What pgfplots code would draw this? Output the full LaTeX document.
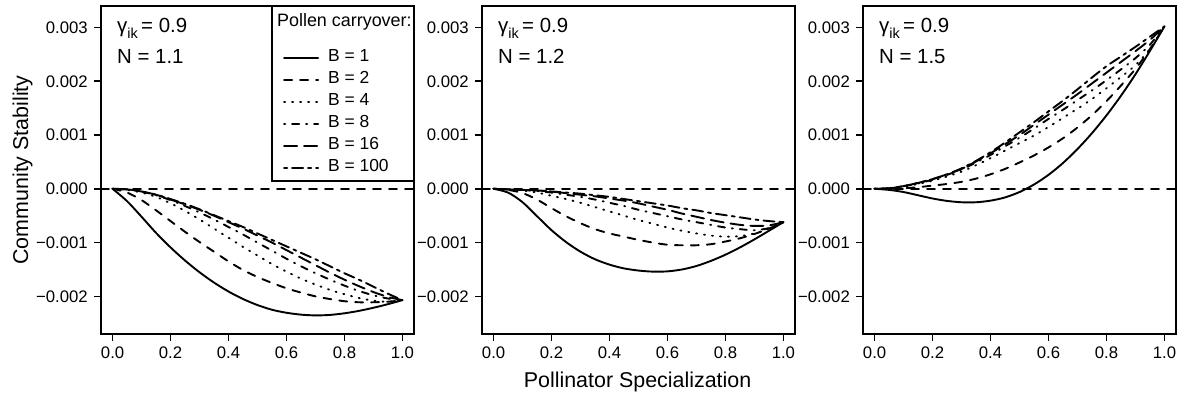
\documentclass[border=0pt]{standalone}
\usepackage{pgfplots}
\pgfplotsset{compat=1.18}
\usepackage{pgfplotstable}
\usepackage{fontspec}
\setmainfont{Liberation Sans}

\pgfplotstableread[row sep=\\]{
x b1 b2 b4 b8 b16 b100\\
0 0 0 0 0 0 0\\
0.05 -0.23e-3 -0.07e-3 -0.02e-3 -0.01e-3 -0.01e-3 -0.01e-3\\
0.10 -0.52e-3 -0.21e-3 -0.07e-3 -0.05e-3 -0.05e-3 -0.05e-3\\
0.15 -0.82e-3 -0.40e-3 -0.15e-3 -0.12e-3 -0.11e-3 -0.11e-3\\
0.20 -1.09e-3 -0.60e-3 -0.27e-3 -0.21e-3 -0.20e-3 -0.19e-3\\
0.25 -1.334e-3 -0.80e-3 -0.41e-3 -0.32e-3 -0.29e-3 -0.28e-3\\
0.30 -1.552e-3 -0.99e-3 -0.57e-3 -0.44e-3 -0.39e-3 -0.38e-3\\
0.35 -1.744e-3 -1.17e-3 -0.74e-3 -0.57e-3 -0.50e-3 -0.49e-3\\
0.40 -1.910e-3 -1.35e-3 -0.91e-3 -0.71e-3 -0.62e-3 -0.60e-3\\
0.45 -2.049e-3 -1.51e-3 -1.08e-3 -0.85e-3 -0.74e-3 -0.71e-3\\
0.50 -2.162e-3 -1.64e-3 -1.24e-3 -1.00e-3 -0.87e-3 -0.83e-3\\
0.55 -2.249e-3 -1.75e-3 -1.40e-3 -1.15e-3 -1.00e-3 -0.95e-3\\
0.60 -2.305e-3 -1.85e-3 -1.54e-3 -1.30e-3 -1.14e-3 -1.07e-3\\
0.65 -2.340e-3 -1.93e-3 -1.67e-3 -1.44e-3 -1.28e-3 -1.19e-3\\
0.70 -2.354e-3 -2.00e-3 -1.78e-3 -1.57e-3 -1.42e-3 -1.31e-3\\
0.75 -2.345e-3 -2.05e-3 -1.88e-3 -1.69e-3 -1.56e-3 -1.44e-3\\
0.80 -2.315e-3 -2.09e-3 -1.96e-3 -1.80e-3 -1.69e-3 -1.57e-3\\
0.85 -2.270e-3 -2.11e-3 -2.03e-3 -1.90e-3 -1.81e-3 -1.69e-3\\
0.90 -2.212e-3 -2.11e-3 -2.08e-3 -1.98e-3 -1.92e-3 -1.82e-3\\
0.95 -2.145e-3 -2.10e-3 -2.10e-3 -2.04e-3 -2.01e-3 -1.95e-3\\
1.00 -2.07e-3 -2.07e-3 -2.07e-3 -2.07e-3 -2.07e-3 -2.07e-3\\
}\tabA

\pgfplotstableread[row sep=\\]{
x b1 b2 b4 b8 b16 b100\\
0 0 0 0 0 0 0\\
0.05 -0.07e-3 -0.02e-3 -0.01e-3 -0.01e-3 -0.01e-3 -0.01e-3\\
0.10 -0.25e-3 -0.08e-3 -0.03e-3 -0.02e-3 -0.02e-3 -0.02e-3\\
0.15 -0.51e-3 -0.20e-3 -0.07e-3 -0.04e-3 -0.03e-3 -0.03e-3\\
0.20 -0.77e-3 -0.36e-3 -0.13e-3 -0.07e-3 -0.05e-3 -0.05e-3\\
0.25 -0.99e-3 -0.51e-3 -0.19e-3 -0.11e-3 -0.08e-3 -0.07e-3\\
0.30 -1.17e-3 -0.64e-3 -0.26e-3 -0.15e-3 -0.11e-3 -0.09e-3\\
0.35 -1.31e-3 -0.75e-3 -0.34e-3 -0.20e-3 -0.14e-3 -0.12e-3\\
0.40 -1.41e-3 -0.83e-3 -0.42e-3 -0.26e-3 -0.18e-3 -0.15e-3\\
0.45 -1.48e-3 -0.89e-3 -0.50e-3 -0.32e-3 -0.22e-3 -0.19e-3\\
0.50 -1.52e-3 -0.95e-3 -0.58e-3 -0.39e-3 -0.27e-3 -0.23e-3\\
0.55 -1.54e-3 -1.00e-3 -0.65e-3 -0.45e-3 -0.33e-3 -0.27e-3\\
0.60 -1.535e-3 -1.04e-3 -0.72e-3 -0.51e-3 -0.39e-3 -0.31e-3\\
0.65 -1.50e-3 -1.05e-3 -0.78e-3 -0.57e-3 -0.46e-3 -0.36e-3\\
0.70 -1.435e-3 -1.05e-3 -0.83e-3 -0.62e-3 -0.52e-3 -0.40e-3\\
0.75 -1.34e-3 -1.03e-3 -0.87e-3 -0.67e-3 -0.58e-3 -0.45e-3\\
0.80 -1.225e-3 -0.98e-3 -0.89e-3 -0.72e-3 -0.63e-3 -0.49e-3\\
0.85 -1.09e-3 -0.92e-3 -0.88e-3 -0.75e-3 -0.67e-3 -0.53e-3\\
0.90 -0.94e-3 -0.84e-3 -0.83e-3 -0.77e-3 -0.69e-3 -0.57e-3\\
0.95 -0.78e-3 -0.74e-3 -0.74e-3 -0.73e-3 -0.68e-3 -0.60e-3\\
1.00 -0.62e-3 -0.62e-3 -0.62e-3 -0.62e-3 -0.62e-3 -0.62e-3\\
}\tabB

\pgfplotstableread[row sep=\\]{
x b1 b2 b4 b8 b16 b100\\
0 0 0 0 0 0 0\\
0.05 -0.02e-3 0.00e-3 0.01e-3 0.01e-3 0.01e-3 0.01e-3\\
0.10 -0.06e-3 0.01e-3 0.04e-3 0.05e-3 0.05e-3 0.05e-3\\
0.15 -0.12e-3 0.03e-3 0.09e-3 0.10e-3 0.11e-3 0.11e-3\\
0.20 -0.18e-3 0.06e-3 0.15e-3 0.17e-3 0.18e-3 0.18e-3\\
0.25 -0.225e-3 0.09e-3 0.23e-3 0.26e-3 0.27e-3 0.27e-3\\
0.30 -0.25e-3 0.13e-3 0.32e-3 0.36e-3 0.37e-3 0.38e-3\\
0.35 -0.25e-3 0.19e-3 0.44e-3 0.49e-3 0.51e-3 0.52e-3\\
0.40 -0.22e-3 0.27e-3 0.57e-3 0.63e-3 0.66e-3 0.68e-3\\
0.45 -0.16e-3 0.37e-3 0.71e-3 0.79e-3 0.83e-3 0.86e-3\\
0.50 -0.06e-3 0.49e-3 0.85e-3 0.95e-3 1.00e-3 1.05e-3\\
0.55 0.08e-3 0.62e-3 0.99e-3 1.12e-3 1.19e-3 1.24e-3\\
0.60 0.26e-3 0.77e-3 1.15e-3 1.30e-3 1.38e-3 1.44e-3\\
0.65 0.48e-3 0.94e-3 1.32e-3 1.47e-3 1.57e-3 1.64e-3\\
0.70 0.74e-3 1.14e-3 1.49e-3 1.65e-3 1.76e-3 1.85e-3\\
0.75 1.035e-3 1.37e-3 1.67e-3 1.83e-3 1.96e-3 2.07e-3\\
0.80 1.365e-3 1.63e-3 1.87e-3 2.02e-3 2.16e-3 2.28e-3\\
0.85 1.73e-3 1.92e-3 2.08e-3 2.22e-3 2.36e-3 2.46e-3\\
0.90 2.13e-3 2.23e-3 2.30e-3 2.43e-3 2.56e-3 2.64e-3\\
0.95 2.565e-3 2.60e-3 2.60e-3 2.68e-3 2.77e-3 2.83e-3\\
1.00 3.02e-3 3.02e-3 3.02e-3 3.02e-3 3.02e-3 3.02e-3\\
}\tabC

\tikzset{
  lA/.style={solid},
  lB/.style={dash pattern=on 8bp off 8bp},
  lC/.style={dash pattern=on 1bp off 7bp},
  lD/.style={dash pattern=on 1bp off 7bp on 7bp off 7bp},
  lE/.style={dash pattern=on 13bp off 7bp},
  lF/.style={dash pattern=on 3bp off 5bp on 11bp off 5bp},
}

\pgfplotsset{
  panel/.style={
    scale only axis, width=313bp, height=328bp,
    xmin=-0.04, xmax=1.04, ymin=-0.0027, ymax=0.0034,
    xtick={0,0.2,0.4,0.6,0.8,1},
    xticklabels={0.0,0.2,0.4,0.6,0.8,1.0},
    ytick={-0.002,-0.001,0,0.001,0.002,0.003},
    yticklabels={−0.002,−0.001,0.000,0.001,0.002,0.003},
    scaled y ticks=false, scaled x ticks=false,
    tick pos=left, tick align=outside, major tick length=7bp,
    axis line style={line width=2bp, black},
    major tick style={line width=1.6bp, black},
    ticklabel style={font=\fontsize{16.8}{20}\selectfont, inner sep=0bp},
    xticklabel shift=6bp, yticklabel shift=6bp,
    every axis plot/.append style={line width=1.9bp, black, line cap=round, line join=round},
  },
}

\newcommand{\gam}{γ\raisebox{-0.28em}{\fontsize{14.5}{15}\selectfont ik}\,= 0.9}

\begin{document}
\begin{tikzpicture}[x=1bp,y=1bp]
\useasboundingbox (0,0) rectangle (1183,398);

% ---------- panel 1 ----------
\begin{axis}[panel, at={(101bp,64bp)}, anchor=south west,
  ylabel={Community Stability},
  ylabel style={at={(axis description cs:-0.233,0.5)}, anchor=base, font=\fontsize{21.5}{24}\selectfont},
  legend style={at={(axis description cs:0.582,0.869)}, anchor=north west, draw=none, fill=none,
    inner sep=0pt, outer sep=0pt, row sep=4bp, column sep=8bp,
    font=\fontsize{17.5}{19}\selectfont, nodes={inner sep=1bp, text height=12bp, text depth=4bp}},
  legend cell align=left,
  legend image code/.code={\draw[line width=1.9bp, black, line cap=round, #1] (0bp,0bp) -- (34bp,0bp);},
]
\addplot[forget plot, lB, line width=1.7bp] coordinates {(-0.04,0) (1.04,0)};
\addplot[lA, smooth] table[x=x, y=b1] {\tabA};
\addplot[lB, smooth] table[x=x, y=b2] {\tabA};
\addplot[lC, smooth] table[x=x, y=b4] {\tabA};
\addplot[lD, smooth] table[x=x, y=b8] {\tabA};
\addplot[lE, smooth] table[x=x, y=b16] {\tabA};
\addplot[lF, smooth] table[x=x, y=b100] {\tabA};
\legend{B = 1, B = 2, B = 4, B = 8, B = 16, B = 100}
\draw[line width=1.7bp, fill=white] (rel axis cs:0.546,0.466) rectangle (rel axis cs:1,1);
\node[anchor=base west, inner sep=0pt, font=\fontsize{18}{20}\selectfont] at (rel axis cs:0.562,0.936) {Pollen carryover:};
\node[anchor=base west, inner sep=0pt, font=\fontsize{20.5}{24}\selectfont] at (rel axis cs:0.051,0.918) {\gam};
\node[anchor=base west, inner sep=0pt, font=\fontsize{20.5}{24}\selectfont] at (rel axis cs:0.051,0.826) {N = 1.1};
\end{axis}

% ---------- panel 2 ----------
\begin{axis}[panel, at={(482bp,64bp)}, anchor=south west,
  xlabel={Pollinator Specialization},
  xlabel style={at={(axis description cs:0.497,-0.1646)}, anchor=base, font=\fontsize{21.5}{24}\selectfont},
]
\addplot[forget plot, lB, line width=1.7bp] coordinates {(-0.04,0) (1.04,0)};
\addplot[lA, smooth] table[x=x, y=b1] {\tabB};
\addplot[lB, smooth] table[x=x, y=b2] {\tabB};
\addplot[lC, smooth] table[x=x, y=b4] {\tabB};
\addplot[lD, smooth] table[x=x, y=b8] {\tabB};
\addplot[lE, smooth] table[x=x, y=b16] {\tabB};
\addplot[lF, smooth] table[x=x, y=b100] {\tabB};
\node[anchor=base west, inner sep=0pt, font=\fontsize{20.5}{24}\selectfont] at (rel axis cs:0.051,0.918) {\gam};
\node[anchor=base west, inner sep=0pt, font=\fontsize{20.5}{24}\selectfont] at (rel axis cs:0.051,0.826) {N = 1.2};
\end{axis}

% ---------- panel 3 ----------
\begin{axis}[panel, at={(863bp,64bp)}, anchor=south west]
\addplot[forget plot, lB, line width=1.7bp] coordinates {(-0.04,0) (1.04,0)};
\addplot[lA, smooth] table[x=x, y=b1] {\tabC};
\addplot[lB, smooth] table[x=x, y=b2] {\tabC};
\addplot[lC, smooth] table[x=x, y=b4] {\tabC};
\addplot[lD, smooth] table[x=x, y=b8] {\tabC};
\addplot[lE, smooth] table[x=x, y=b16] {\tabC};
\addplot[lF, smooth] table[x=x, y=b100] {\tabC};
\node[anchor=base west, inner sep=0pt, font=\fontsize{20.5}{24}\selectfont] at (rel axis cs:0.051,0.918) {\gam};
\node[anchor=base west, inner sep=0pt, font=\fontsize{20.5}{24}\selectfont] at (rel axis cs:0.051,0.826) {N = 1.5};
\end{axis}
\end{tikzpicture}
\end{document}
